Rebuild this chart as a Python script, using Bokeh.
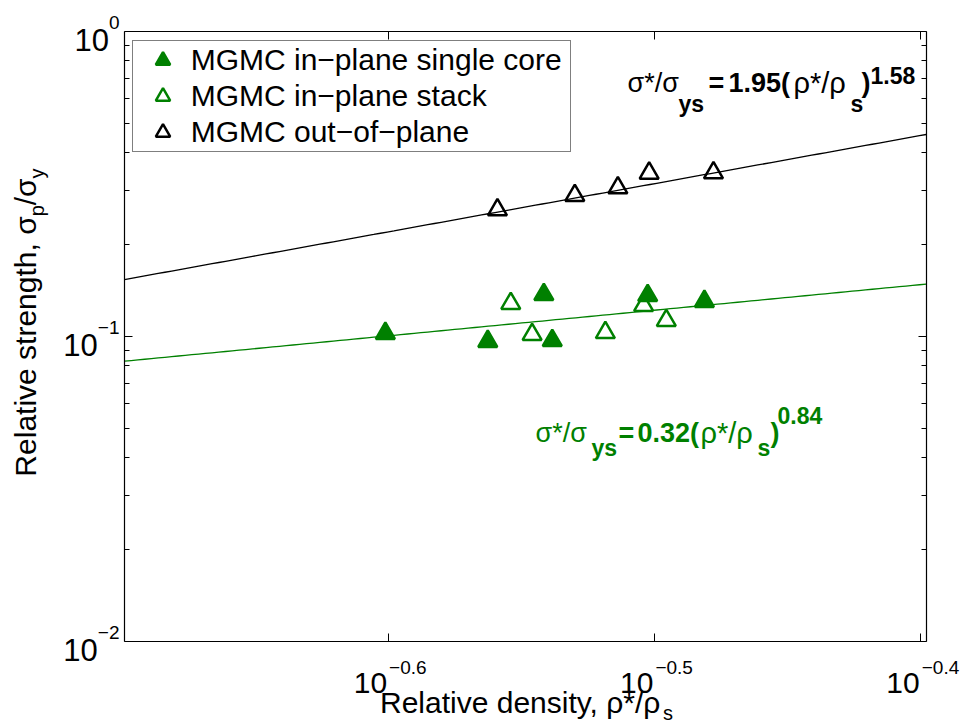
import numpy as np
from math import log10
from bokeh.plotting import figure
from bokeh.models import (FixedTicker, LogAxis, Label, Legend, LegendItem,
                          Range1d, CustomJSTickFormatter)
from bokeh.embed import file_html
from bokeh.resources import INLINE

# ---------------- data ----------------
series_names = ["MGMC in\u2212plane single core", "MGMC in\u2212plane stack",
                "MGMC out\u2212of\u2212plane"]
single_x = [0.2506, 0.2738, 0.2874, 0.2895, 0.3144, 0.3302]
single_y = [0.1021, 0.0961, 0.1370, 0.0968, 0.1360, 0.1300]
stack_x = [0.2793, 0.2845, 0.3031, 0.3133, 0.3195]
stack_y = [0.1280, 0.1013, 0.1028, 0.1261, 0.1126]
oop_x = [0.2761, 0.2952, 0.3064, 0.3148, 0.3328]
oop_y = [0.2597, 0.2893, 0.3066, 0.3424, 0.3434]

fit_in = (0.32, 0.84)     # sigma*/sigma_ys = C (rho*/rho_s)^n, in-plane
fit_out = (1.95, 1.58)    # out-of-plane

X_LO, X_HI = 0.2, 0.4
Y_LO, Y_HI = 0.01, 1.0
x_ticks = [10 ** -0.6, 10 ** -0.5, 10 ** -0.4]
x_tick_exps = ["\u22120.6", "\u22120.5", "\u22120.4"]
y_ticks = [0.01, 0.1, 1.0]
y_tick_exps = ["\u22122", "\u22121", "0"]
y_minor = [k * 10.0 ** e for e in (-2, -1) for k in range(2, 10)]

x_title = ("Relative density, \u03c1*/\u03c1", "s")
y_title = [("Relative strength, \u03c3", False), ("p", True), ("/\u03c3", False), ("y", True)]

# ---------------- layout ----------------
FONT = "Liberation Sans"
GREEN = "#008000"
W, H = 960, 724
BOX_L, BOX_R, BOX_T, BOX_B = 124.0, 925.7, 30.7, 640.7   # plot box in page pixels

kx = (BOX_R - BOX_L) / (log10(X_HI) - log10(X_LO))
ky = (BOX_B - BOX_T) / (log10(Y_HI) - log10(Y_LO))
x_start = 10 ** (log10(X_LO) - BOX_L / kx)
x_end = 10 ** (log10(X_HI) + (W - BOX_R) / kx)
y_start = 10 ** (log10(Y_LO) - (H - BOX_B) / ky)
y_end = 10 ** (log10(Y_HI) + BOX_T / ky)


def sx(px):
    return px


def sy(py):
    return H - py


REG = {"R": 722, "e": 556, "l": 222, "a": 556, "t": 278, "i": 222, "v": 500, " ": 278,
       "s": 500, "r": 333, "n": 556, "g": 556, "h": 556, ",": 278, "d": 556, "y": 500,
       "\u03c3": 617, "\u03c1": 576, "*": 389, "/": 278, "p": 556, ".": 278, "\u2212": 584}


def tw(text, size):
    return sum(REG.get(c, 556) for c in text) * size / 1000.0


p = figure(width=W, height=H, x_axis_type="log", y_axis_type="log",
           x_range=Range1d(x_start, x_end), y_range=Range1d(y_start, y_end),
           output_backend="svg", toolbar_location=None, min_border=0)
p.grid.visible = False
p.outline_line_color = None
p.background_fill_color = "white"
p.border_fill_color = "white"

blank = CustomJSTickFormatter(code="return ''")


def style(ax, ticker, loc, bounds):
    ax.ticker = ticker
    ax.formatter = blank
    ax.fixed_location = loc
    ax.bounds = bounds
    ax.major_tick_in = 8
    ax.major_tick_out = 0
    ax.minor_tick_in = 5
    ax.minor_tick_out = 0
    ax.axis_line_color = "black"
    ax.axis_line_width = 1.2
    ax.major_tick_line_color = "black"
    ax.minor_tick_line_color = "black"
    ax.major_label_standoff = 0
    ax.major_label_text_font_size = "0px"


xt = FixedTicker(ticks=x_ticks, minor_ticks=[])
yt = FixedTicker(ticks=y_ticks, minor_ticks=y_minor)
style(p.xaxis[0], xt, Y_LO, (X_LO, X_HI))
style(p.yaxis[0], yt, X_LO, (Y_LO, Y_HI))
top_ax = LogAxis()
style(top_ax, xt, Y_HI, (X_LO, X_HI))
p.add_layout(top_ax, "above")
right_ax = LogAxis()
style(right_ax, yt, X_HI, (Y_LO, Y_HI))
p.add_layout(right_ax, "right")

# fit lines
xf = np.geomspace(X_LO, X_HI, 120)
p.line(xf, fit_in[0] * xf ** fit_in[1], line_color=GREEN, line_width=1.3)
p.line(xf, fit_out[0] * xf ** fit_out[1], line_color="black", line_width=1.3)

# markers
r1 = p.scatter(single_x, single_y, marker="triangle", size=19, fill_color=GREEN,
               line_color=GREEN, line_width=2.5)
r2 = p.scatter(stack_x, stack_y, marker="triangle", size=19, fill_color=None,
               line_color=GREEN, line_width=2.5)
r3 = p.scatter(oop_x, oop_y, marker="triangle", size=19, fill_color=None,
               line_color="black", line_width=2.5)

LEG_L, LEG_T, LEG_H = 131.7, 39.0, 113
legend = Legend(items=[LegendItem(label=n, renderers=[r]) for n, r in zip(series_names, [r1, r2, r3])],
                location=(LEG_L, H - LEG_T - LEG_H), padding=1, spacing=0,
                glyph_width=57, glyph_height=36, label_standoff=0,
                label_width=378, label_height=36,
                label_text_font=FONT, label_text_font_size="30px", label_text_color="black",
                border_line_color="black", border_line_width=1.2,
                background_fill_color="white", background_fill_alpha=1)
p.add_layout(legend)


def lab(text, x, y, size, color="black", bold=False, xu="screen", yu="screen",
        align="left", angle=0.0, yoff=0, xoff=0):
    p.add_layout(Label(x=x, y=y, x_units=xu, y_units=yu, text=text,
                       text_font=FONT, text_font_size=f"{size}px", text_color=color,
                       text_font_style="bold" if bold else "normal",
                       text_baseline="alphabetic", text_align=align, angle=angle,
                       x_offset=xoff, y_offset=yoff))


# y tick labels
TK, SUP = 31, 19
for t, e in zip(y_ticks, y_tick_exps):
    we = tw(e, SUP)
    lab(e, sx(119), t, SUP, xu="screen", yu="data", align="right", yoff=9)
    lab("10", sx(119) - we, t, TK, xu="screen", yu="data", align="right", yoff=-9)

# x tick labels
for t, e in zip(x_ticks, x_tick_exps):
    lab("10", t, sy(682), 30, xu="data", yu="screen", align="right", xoff=-1)
    lab(e, t, sy(667), SUP, xu="data", yu="screen", align="left", xoff=1)

# x title
TT, TS = 30, 20
main, sub = x_title
total = tw(main, TT) + tw(sub, TS)
x0 = 526 - total / 2
lab(main, sx(x0), sy(702), TT)
lab(sub, sx(x0 + tw(main, TT)), sy(712), TS)

# y title (rotated)
total = sum(tw(t, TS if s else TT) for t, s in y_title)
ypos = 322 + total / 2
for t, s in y_title:
    size = TS if s else TT
    bx = 25 + (11 if s else 0)
    lab(t, sx(bx), sy(ypos), size, angle=np.pi / 2)
    ypos -= tw(t, size)

# equations
eq_out = [("\u03c3*/\u03c3", 627, 82, 27, False), ("ys", 678, 103, 23, True),
          ("=", 708, 82, 27, True), ("1.95(", 728, 82, 27, True),
          ("\u03c1*/\u03c1", 793, 82, 29, False),
          ("s", 850, 103, 23, True), (")", 861, 82, 27, True), ("1.58", 870, 75, 23, True)]
eq_in = [("\u03c3*/\u03c3", 535, 432, 27, False), ("ys", 591, 447, 23, True),
         ("=", 618, 432, 27, True), ("0.32(", 637, 432, 27, True),
         ("\u03c1*/\u03c1", 700, 432, 29, False),
         ("s", 757, 447, 23, True), (")", 770, 432, 27, True), ("0.84", 777, 415, 23, True)]
for txt, px, py, size, b in eq_out:
    lab(txt, sx(px), sy(py), size, color="black", bold=b)
for txt, px, py, size, b in eq_in:
    lab(txt, sx(px), sy(py), size, color=GREEN, bold=b)

open("out.html", "w").write(file_html(p, INLINE))
